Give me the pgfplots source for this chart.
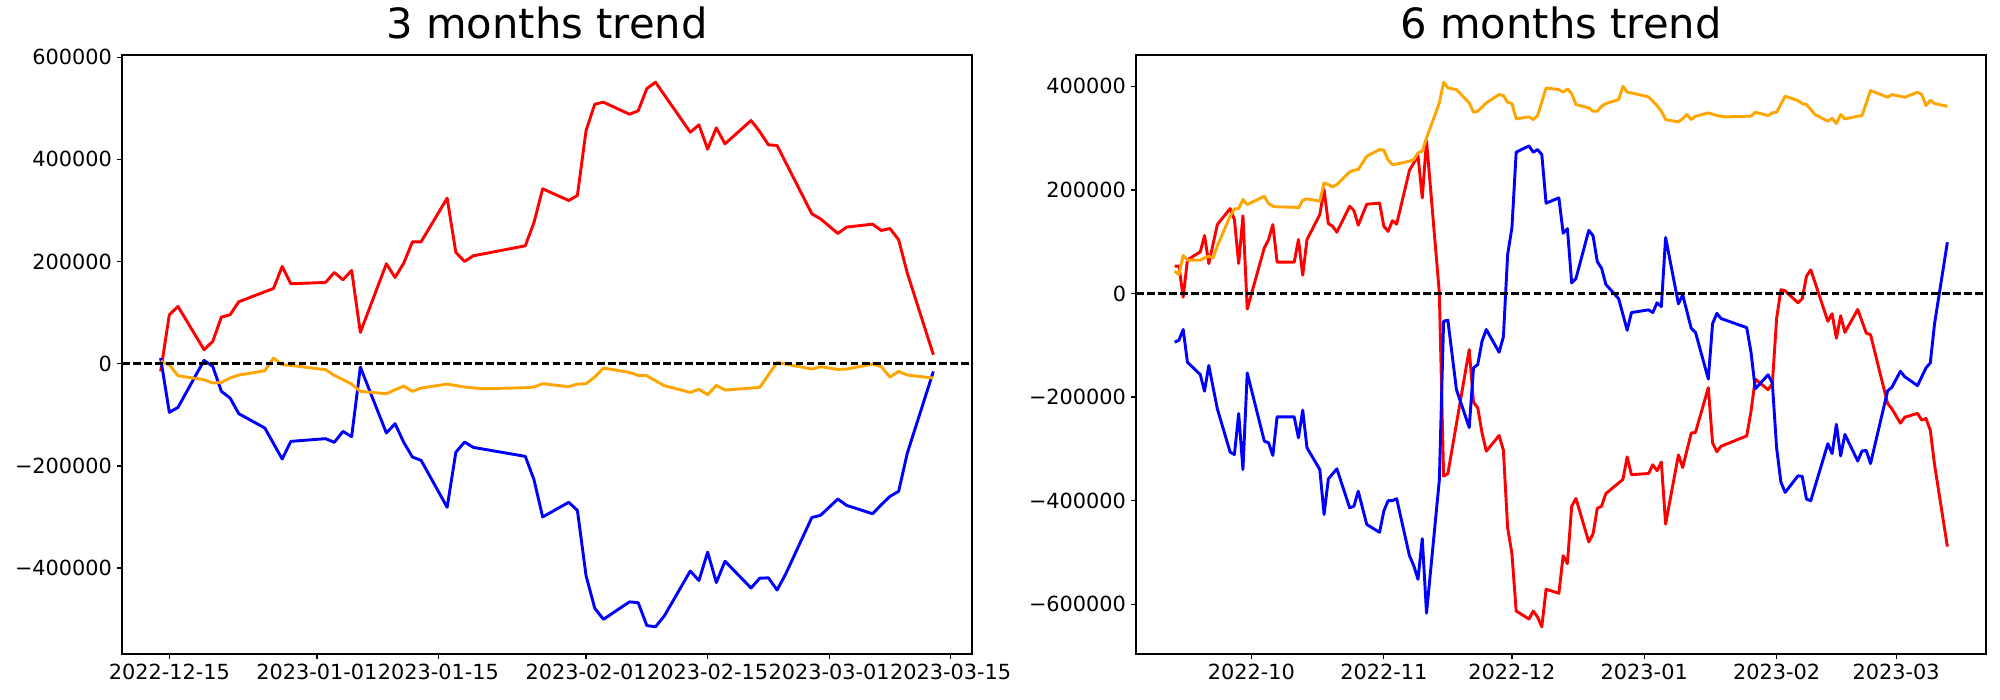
\documentclass[border=0pt]{standalone}
\usepackage{fontspec}
\setmainfont{DejaVu Sans}
\usepackage{pgfplots}
\pgfplotsset{compat=1.18}
\definecolor{mplorange}{RGB}{255,165,0}
\pgfplotsset{
  trend/.style={
    scale only axis, width=8.5in, height=5.99in,
    axis line style={line width=0.9bp},
    every tick/.style={line width=0.9bp, black},
    tick align=outside, major tick length=3.5bp,
    xtick pos=lower, ytick pos=left,
    scaled y ticks=false, scaled x ticks=false,
    tick label style={font=\fontsize{15bp}{18bp}\selectfont, inner sep=0pt},
    xticklabel style={yshift=-3.5bp},
    yticklabel style={xshift=-3.5bp},
    title style={font=\fontsize{30bp}{36bp}\selectfont, at={(0.5,1)}, anchor=base, yshift=6bp, inner sep=0pt},
  },
  ser/.style={line width=2.1bp, line join=round, #1},
}
\begin{document}
\begin{tikzpicture}
\useasboundingbox (0,0) rectangle (20in,7in);
% ---------------- left panel ----------------
\begin{axis}[trend, at={(1.22in,0.46in)}, anchor=south west,
  title={3 months trend},
  xmin=-5.45, xmax=92.45, ymin=-568100, ymax=604200,
  xtick={0,17,31,48,62,76,90},
  xticklabels={2022-12-15,2023-01-01,2023-01-15,2023-02-01,2023-02-15,2023-03-01,2023-03-15},
  ytick={-400000,-200000,0,200000,400000,600000},
  yticklabels={−400000,−200000,0,200000,400000,600000},
]
\addplot[ser=red] coordinates {(-1,-15000) (0,95800) (1,112100) (4,27400) (5,43700) (6,91300) (7,95800) (8,121300) (12,147300) (13,190400) (14,156500) (18,159100) (19,178600) (20,164300) (21,182600) (22,61300) (25,195600) (26,168900) (27,196900) (28,238600) (29,238600) (32,324000) (33,217800) (34,200200) (35,211200) (41,230800) (42,276400) (43,342300) (46,319500) (47,329300) (48,456400) (49,507900) (50,511800) (53,488300) (54,494900) (55,538600) (56,550900) (60,453100) (61,467500) (62,419900) (63,461600) (64,430300) (67,476000) (68,454400) (69,428400) (70,427100) (74,293400) (75,283600) (77,254900) (78,267300) (81,273200) (82,260800) (83,264700) (84,242500) (85,177300) (88,17600)};
\addplot[ser=blue] coordinates {(-1,11100) (0,-95200) (1,-85400) (4,6500) (5,-5200) (6,-54100) (7,-67200) (8,-97800) (11,-125800) (13,-186500) (14,-151900) (18,-146700) (19,-153900) (20,-132400) (21,-142800) (22,-6500) (25,-135600) (26,-117400) (27,-153900) (28,-182600) (29,-189100) (32,-281000) (33,-173400) (34,-153200) (35,-163700) (41,-181300) (42,-226900) (43,-299900) (46,-271200) (47,-287000) (48,-415000) (49,-478500) (50,-500200) (53,-466100) (54,-467700) (55,-512500) (56,-514800) (57,-493900) (60,-405700) (61,-424300) (62,-368700) (63,-428200) (64,-386500) (67,-439000) (68,-419800) (69,-419000) (70,-442900) (71,-411200) (74,-301000) (75,-296800) (77,-264800) (78,-277200) (81,-293600) (82,-276000) (83,-259600) (84,-249800) (85,-174900) (88,-15100)};
\addplot[ser=mplorange] coordinates {(-1,4600) (0,-2000) (1,-23500) (4,-31300) (5,-37800) (6,-36500) (7,-28000) (8,-22200) (11,-13700) (12,11100) (13,-2000) (14,-3300) (18,-11700) (19,-22800) (20,-31300) (21,-39800) (22,-54100) (25,-58700) (26,-50900) (27,-43700) (28,-54100) (29,-47600) (32,-39800) (34,-45600) (36,-48900) (41,-47000) (42,-45600) (43,-39100) (46,-45000) (47,-39800) (48,-39100) (49,-26100) (50,-8500) (53,-17000) (54,-22800) (55,-23500) (57,-43000) (60,-56100) (61,-50000) (62,-60600) (63,-42400) (64,-51500) (68,-46300) (70,2600) (74,-10400) (75,-5900) (77,-11100) (78,-10400) (81,-700) (82,-5900) (83,-26100) (84,-15000) (85,-22200) (88,-28000)};
\addplot[ser=black, dash pattern=on 5.55bp off 2.4bp] coordinates {(-5.45,0) (92.45,0)};
\end{axis}
% ---------------- right panel ----------------
\begin{axis}[trend, at={(11.36in,0.46in)}, anchor=south west,
  title={6 months trend},
  xmin=-27.05, xmax=172.05, ymin=-696000, ymax=460600,
  xtick={0,31,61,92,123,151},
  xticklabels={2022-10,2022-11,2022-12,2023-01,2023-02,2023-03},
  ytick={-600000,-400000,-200000,0,200000,400000},
  yticklabels={−600000,−400000,−200000,0,200000,400000},
]
\addplot[ser=red] coordinates {(-18,52800) (-17,52800) (-16,-7100) (-15,65000) (-12,80400) (-11,112000) (-10,57900) (-8,133200) (-5,164100) (-4,142700) (-3,58000) (-2,150200) (-1,-30000) (3,88200) (4,104200) (5,133200) (6,60500) (10,60500) (11,104200) (12,35400) (13,104200) (16,152500) (17,200800) (18,135100) (19,130000) (20,118400) (23,168600) (24,160000) (25,132000) (27,172500) (30,174600) (31,130000) (32,120000) (33,140600) (34,134000) (37,238000) (39,266000) (40,184700) (41,294800) (44,1300) (45,-352600) (46,-347500) (51,-108100) (52,-209800) (53,-220700) (54,-269000) (55,-304400) (58,-274100) (59,-302400) (60,-452500) (61,-502300) (62,-613100) (65,-628400) (66,-613100) (67,-624500) (68,-643600) (69,-571000) (72,-578700) (73,-506100) (74,-521400) (75,-410800) (76,-395600) (79,-479600) (80,-464200) (81,-414600) (82,-410800) (83,-386300) (87,-358900) (88,-315400) (89,-349800) (93,-347500) (94,-330700) (95,-342100) (96,-325300) (97,-445200) (100,-311600) (101,-335900) (103,-269500) (104,-268000) (107,-181900) (108,-288600) (109,-305400) (110,-294800) (116,-274900) (117,-227600) (118,-165100) (121,-185700) (122,-174100) (123,-48300) (124,7500) (125,5200) (128,-17800) (129,-10000) (130,33400) (131,45800) (135,-53500) (136,-39000) (137,-86300) (138,-42900) (139,-74900) (142,-30700) (144,-76400) (145,-79500) (149,-212400) (150,-222600) (152,-250400) (153,-238900) (156,-231400) (157,-244400) (158,-241300) (159,-264300) (160,-330700) (163,-488600)};
\addplot[ser=blue] coordinates {(-18,-93900) (-17,-90100) (-16,-69500) (-15,-132600) (-12,-156400) (-11,-188500) (-10,-139000) (-8,-222600) (-5,-306300) (-4,-310800) (-3,-231700) (-2,-339800) (-1,-153200) (3,-285000) (4,-288300) (5,-312700) (6,-238100) (10,-238100) (11,-278600) (12,-225200) (13,-297900) (16,-339800) (17,-426600) (18,-357900) (20,-338500) (23,-413800) (24,-410500) (25,-381600) (27,-446000) (30,-461000) (31,-419900) (32,-400000) (33,-400000) (34,-396000) (37,-506200) (38,-525300) (39,-551900) (40,-473300) (41,-617000) (44,-360000) (45,-53400) (46,-51500) (48,-185300) (51,-258800) (52,-143500) (53,-137100) (54,-92000) (55,-69500) (58,-113300) (59,-83700) (60,75300) (61,126800) (62,273000) (65,285000) (66,272800) (67,278000) (68,268500) (69,174500) (72,184700) (73,116500) (74,125300) (75,20500) (76,29000) (79,122000) (80,111700) (81,61500) (82,49000) (83,17700) (86,-10000) (88,-71000) (89,-36700) (93,-31500) (94,-36700) (95,-17800) (96,-25300) (97,108300) (100,-19900) (101,-2300) (103,-67200) (104,-74900) (107,-165100) (108,-58100) (109,-38200) (110,-48300) (116,-65800) (117,-113100) (118,-184000) (121,-157000) (122,-172500) (123,-298000) (124,-364000) (125,-384000) (128,-352000) (129,-353000) (130,-397000) (131,-400000) (135,-290000) (136,-309000) (137,-252500) (138,-313500) (139,-272000) (142,-323300) (143,-304000) (144,-303000) (145,-328300) (149,-188000) (150,-181000) (152,-150000) (153,-160600) (156,-177800) (158,-143500) (159,-134000) (160,-58000) (163,99000)};
\addplot[ser=mplorange] coordinates {(-18,43100) (-17,36700) (-16,73400) (-15,64400) (-12,64400) (-11,68900) (-10,72100) (-9,68900) (-8,92000) (-5,149300) (-4,163400) (-3,164100) (-2,181500) (-1,171800) (3,187900) (4,173700) (5,168600) (6,167300) (10,166700) (11,165400) (12,180200) (13,182800) (16,178200) (17,213600) (18,210400) (19,205900) (20,210400) (23,234900) (24,238100) (25,239400) (27,265100) (30,278000) (31,277000) (32,258000) (33,249000) (34,250000) (37,255500) (38,258700) (39,271600) (40,274800) (41,300500) (44,368100) (45,408000) (46,397000) (48,393800) (51,368100) (52,350100) (53,352000) (55,368100) (58,384200) (59,382200) (60,369400) (61,366800) (62,337200) (65,341100) (66,335900) (67,343600) (68,370000) (69,397000) (72,393800) (73,388700) (74,395100) (75,386100) (76,364900) (79,358400) (80,352000) (81,352000) (82,361600) (83,366800) (86,374500) (87,400200) (88,388700) (89,387400) (93,379700) (94,371300) (95,362900) (96,352000) (97,335900) (100,331400) (101,337800) (102,345600) (103,335900) (104,342300) (107,348800) (109,343600) (111,341100) (116,342300) (117,342300) (118,350100) (121,343600) (122,348800) (123,350100) (125,381000) (128,372600) (129,366800) (130,364900) (132,345600) (135,332700) (136,338500) (137,328200) (138,345600) (139,337200) (142,342300) (143,343600) (145,391900) (146,388700) (149,379000) (150,384200) (153,379000) (156,388700) (157,384200) (158,362900) (159,373200) (160,366800) (163,361600)};
\addplot[ser=black, dash pattern=on 5.55bp off 2.4bp] coordinates {(-27.05,0) (172.05,0)};
\end{axis}
\end{tikzpicture}
\end{document}
